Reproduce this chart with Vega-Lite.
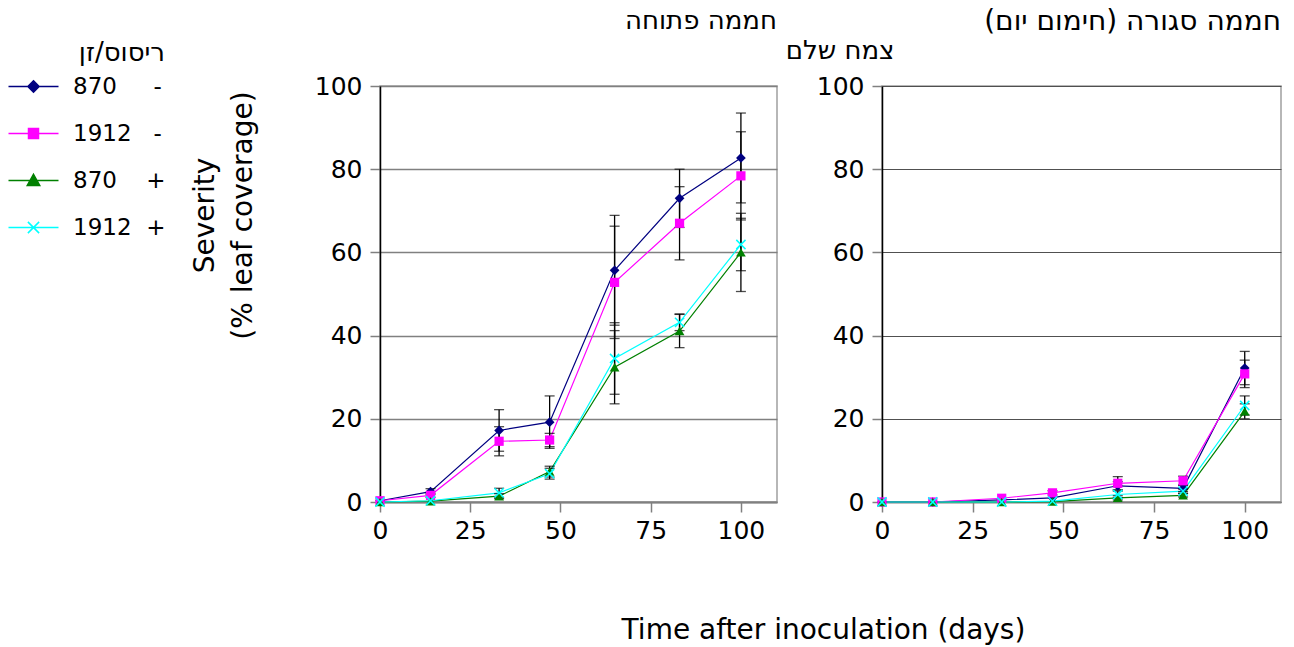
{
  "$schema": "https://vega.github.io/schema/vega-lite/v6.json",
  "background": "white",
  "padding": {"left": 20, "top": 7, "right": 0, "bottom": 0},
  "bounds": "flush",
  "spacing": 105,
  "config": {
    "font": "DejaVu Sans",
    "view": {"stroke": "#a0a0a0", "strokeWidth": 1.5},
    "axis": {"labelFont": "DejaVu Sans", "labelFontSize": 25, "labelColor": "black", "titleFont": "DejaVu Sans", "titleFontSize": 28, "titleFontWeight": "normal", "titleColor": "black", "labelFlush": false, "labelOverlap": false},
    "title": {"font": "DejaVu Sans", "fontSize": 26, "fontWeight": "normal", "color": "black"}
  },
  "datasets": {
    "d": [
      {"panel": "open", "series": "870 -", "day": 0, "severity": 0.3, "err": 0},
      {"panel": "open", "series": "870 -", "day": 14, "severity": 2.5, "err": 0.7},
      {"panel": "open", "series": "870 -", "day": 33, "severity": 17.2, "err": 5.0},
      {"panel": "open", "series": "870 -", "day": 47, "severity": 19.2, "err": 6.3},
      {"panel": "open", "series": "870 -", "day": 65, "severity": 55.7, "err": 13.2},
      {"panel": "open", "series": "870 -", "day": 83, "severity": 73.0, "err": 7.0},
      {"panel": "open", "series": "870 -", "day": 100, "severity": 82.7, "err": 10.8},
      {"panel": "open", "series": "1912 -", "day": 0, "severity": 0.3, "err": 0},
      {"panel": "open", "series": "1912 -", "day": 14, "severity": 1.6, "err": 0.5},
      {"panel": "open", "series": "1912 -", "day": 33, "severity": 14.6, "err": 3.5},
      {"panel": "open", "series": "1912 -", "day": 47, "severity": 14.9, "err": 1.6},
      {"panel": "open", "series": "1912 -", "day": 65, "severity": 52.8, "err": 13.5},
      {"panel": "open", "series": "1912 -", "day": 83, "severity": 67.0, "err": 8.8},
      {"panel": "open", "series": "1912 -", "day": 100, "severity": 78.4, "err": 10.6},
      {"panel": "open", "series": "870 +", "day": 0, "severity": 0.0, "err": 0},
      {"panel": "open", "series": "870 +", "day": 14, "severity": 0.2, "err": 0},
      {"panel": "open", "series": "870 +", "day": 33, "severity": 1.4, "err": 0.6},
      {"panel": "open", "series": "870 +", "day": 47, "severity": 7.3, "err": 1.3},
      {"panel": "open", "series": "870 +", "day": 65, "severity": 32.4, "err": 8.8},
      {"panel": "open", "series": "870 +", "day": 83, "severity": 41.1, "err": 4.0},
      {"panel": "open", "series": "870 +", "day": 100, "severity": 60.0, "err": 9.4},
      {"panel": "open", "series": "1912 +", "day": 0, "severity": 0.0, "err": 0},
      {"panel": "open", "series": "1912 +", "day": 14, "severity": 0.3, "err": 0},
      {"panel": "open", "series": "1912 +", "day": 33, "severity": 2.2, "err": 1.1},
      {"panel": "open", "series": "1912 +", "day": 47, "severity": 6.8, "err": 1.3},
      {"panel": "open", "series": "1912 +", "day": 65, "severity": 34.5, "err": 8.6},
      {"panel": "open", "series": "1912 +", "day": 83, "severity": 43.2, "err": 2.0},
      {"panel": "open", "series": "1912 +", "day": 100, "severity": 61.9, "err": 6.3},
      {"panel": "closed", "series": "870 -", "day": 0, "severity": 0.0, "err": 0},
      {"panel": "closed", "series": "870 -", "day": 14, "severity": 0.0, "err": 0},
      {"panel": "closed", "series": "870 -", "day": 33, "severity": 0.5, "err": 0},
      {"panel": "closed", "series": "870 -", "day": 47, "severity": 1.0, "err": 0},
      {"panel": "closed", "series": "870 -", "day": 65, "severity": 3.9, "err": 1.0},
      {"panel": "closed", "series": "870 -", "day": 83, "severity": 3.3, "err": 0.8},
      {"panel": "closed", "series": "870 -", "day": 100, "severity": 32.2, "err": 4.0},
      {"panel": "closed", "series": "1912 -", "day": 0, "severity": 0.0, "err": 0},
      {"panel": "closed", "series": "1912 -", "day": 14, "severity": 0.0, "err": 0},
      {"panel": "closed", "series": "1912 -", "day": 33, "severity": 0.9, "err": 0},
      {"panel": "closed", "series": "1912 -", "day": 47, "severity": 2.2, "err": 0.5},
      {"panel": "closed", "series": "1912 -", "day": 65, "severity": 4.5, "err": 1.6},
      {"panel": "closed", "series": "1912 -", "day": 83, "severity": 5.1, "err": 1.1},
      {"panel": "closed", "series": "1912 -", "day": 100, "severity": 30.8, "err": 3.3},
      {"panel": "closed", "series": "870 +", "day": 0, "severity": 0.0, "err": 0},
      {"panel": "closed", "series": "870 +", "day": 14, "severity": 0.0, "err": 0},
      {"panel": "closed", "series": "870 +", "day": 33, "severity": 0.0, "err": 0},
      {"panel": "closed", "series": "870 +", "day": 47, "severity": 0.1, "err": 0},
      {"panel": "closed", "series": "870 +", "day": 65, "severity": 1.0, "err": 0.5},
      {"panel": "closed", "series": "870 +", "day": 83, "severity": 1.6, "err": 0.4},
      {"panel": "closed", "series": "870 +", "day": 100, "severity": 21.8, "err": 1.8},
      {"panel": "closed", "series": "1912 +", "day": 0, "severity": 0.0, "err": 0},
      {"panel": "closed", "series": "1912 +", "day": 14, "severity": 0.0, "err": 0},
      {"panel": "closed", "series": "1912 +", "day": 33, "severity": 0.0, "err": 0},
      {"panel": "closed", "series": "1912 +", "day": 47, "severity": 0.2, "err": 0},
      {"panel": "closed", "series": "1912 +", "day": 65, "severity": 1.8, "err": 0.8},
      {"panel": "closed", "series": "1912 +", "day": 83, "severity": 2.6, "err": 0.5},
      {"panel": "closed", "series": "1912 +", "day": 100, "severity": 23.2, "err": 2.3}
    ]
  },
  "hconcat": [
    {
      "width": 397,
      "height": 416,
      "title": {"text": "חממה פתוחה", "anchor": "end", "frame": "group", "offset": 40},
      "data": {"name": "d"},
      "transform": [{"filter": "datum.panel == 'open'"}],
      "encoding": {
        "x": {"field": "day", "type": "quantitative", "scale": {"domain": [0, 110], "nice": false, "zero": false},
          "axis": {"values": [0, 25, 50, 75, 100], "grid": false, "domainColor": "#808080", "domainWidth": 2, "tickColor": "#808080", "tickSize": 10, "tickWidth": 1.5, "labelPadding": 6,
            "title": "Time after inoculation (days)", "titleX": 443, "titleY": 128, "titleAlign": "center", "titleBaseline": "middle", "titleAngle": 0}},
        "y": {"field": "severity", "type": "quantitative", "scale": {"domain": [0, 100], "nice": false},
          "axis": {"values": [0, 20, 40, 60, 80, 100], "grid": true, "gridColor": "#808080", "gridWidth": 1.5, "domainColor": "black", "domainWidth": 1.5, "tickColor": "#808080", "tickSize": 10, "tickWidth": 1.5, "labelPadding": 8,
            "title": ["Severity", "(% leaf coverage)"], "titleAngle": -90, "titleX": -175, "titleY": 129, "titleAlign": "center", "titleBaseline": "middle", "titleLineHeight": 38}}
      },
      "layer": [
        {"mark": {"type": "line", "strokeWidth": 1.2},
         "encoding": {"color": {"field": "series", "type": "nominal",
           "scale": {"domain": ["870 -", "1912 -", "870 +", "1912 +"], "range": ["#000080", "#ff00ff", "#008000", "#00ffff"]},
           "legend": {"orient": "none", "legendX": -360, "legendY": -46, "title": "ריסוס/זן", "titleFontSize": 26, "titleFontWeight": "normal", "titleFont": "DejaVu Sans", "titleAnchor": "end", "titlePadding": 7,
             "labelFont": "DejaVu Sans", "labelFontSize": 23, "labelOffset": 26, "rowPadding": 21, "symbolSize": 625, "symbolStrokeWidth": 1.5,
             "labelExpr": "datum.value == '870 -' ? '870\u00a0\u00a0\u00a0\u00a0\u00a0-' : datum.value == '1912 -' ? '1912\u00a0\u00a0\u00a0-' : datum.value == '870 +' ? '870\u00a0\u00a0\u00a0\u00a0+' : '1912\u00a0\u00a0+'",
             "encode": {"symbols": {"update": {
               "shape": {"signal": "datum.value == '870 -' ? 'M-2,0H2M0,-0.45L0.45,0L0,0.45L-0.45,0Z' : datum.value == '1912 -' ? 'M-2,0H2M-0.4,-0.4H0.4V0.4H-0.4Z' : datum.value == '870 +' ? 'M-2,0H2M0,-0.5L0.5,0.4H-0.5Z' : 'M-2,0H2M-0.45,-0.45L0.45,0.45M-0.45,0.45L0.45,-0.45'"},
               "fill": {"scale": "color", "field": "value"},
               "stroke": {"scale": "color", "field": "value"},
               "strokeWidth": {"value": 1.5},
               "size": {"value": 625},
               "opacity": {"value": 1}}}}}}}},
        {"transform": [{"filter": "datum.err > 0"}],
         "mark": {"type": "errorbar", "color": "black", "thickness": 1.3, "ticks": {"size": 10, "color": "black"}},
         "encoding": {"yError": {"field": "err"}}},
        {"transform": [{"filter": "datum.series == '870 -'"}],
         "mark": {"type": "point", "shape": "diamond", "filled": true, "color": "#000080", "size": 95, "opacity": 1}},
        {"transform": [{"filter": "datum.series == '1912 -'"}],
         "mark": {"type": "point", "shape": "square", "filled": true, "color": "#ff00ff", "size": 85, "opacity": 1}},
        {"transform": [{"filter": "datum.series == '870 +'"}],
         "mark": {"type": "point", "shape": "triangle-up", "filled": true, "color": "#008000", "size": 95, "opacity": 1}},
        {"transform": [{"filter": "datum.series == '1912 +'"}],
         "mark": {"type": "point", "shape": "M-1,-1L1,1M-1,1L1,-1", "filled": false, "color": "#00ffff", "strokeWidth": 1.5, "size": 85, "opacity": 1}}
      ]
    },
    {
      "width": 399,
      "height": 416,
      "title": {"text": "חממה סגורה (חימום יום)‏", "anchor": "end", "frame": "group", "offset": 1, "fontSize": 28},
      "data": {"name": "d"},
      "transform": [{"filter": "datum.panel == 'closed'"}],
      "encoding": {
        "x": {"field": "day", "type": "quantitative", "scale": {"domain": [0, 110], "nice": false, "zero": false},
          "axis": {"values": [0, 25, 50, 75, 100], "grid": false, "domainColor": "#808080", "domainWidth": 2, "tickColor": "#808080", "tickSize": 10, "tickWidth": 1.5, "labelPadding": 6, "title": null}},
        "y": {"field": "severity", "type": "quantitative", "scale": {"domain": [0, 100], "nice": false},
          "axis": {"values": [0, 20, 40, 60, 80, 100], "grid": true, "gridColor": "#505050", "gridWidth": 1.2, "domainColor": "black", "domainWidth": 1.5, "tickColor": "#808080", "tickSize": 10, "tickWidth": 1.5, "labelPadding": 8,
            "title": "צמח שלם", "titleFontSize": 26, "titleAngle": 0, "titleX": 12, "titleY": -28, "titleAlign": "right", "titleBaseline": "alphabetic"}}
      },
      "layer": [
        {"mark": {"type": "line", "strokeWidth": 1.2},
         "encoding": {"color": {"field": "series", "type": "nominal"}}},
        {"transform": [{"filter": "datum.err > 0"}],
         "mark": {"type": "errorbar", "color": "black", "thickness": 1.3, "ticks": {"size": 10, "color": "black"}},
         "encoding": {"yError": {"field": "err"}}},
        {"transform": [{"filter": "datum.series == '870 -'"}],
         "mark": {"type": "point", "shape": "diamond", "filled": true, "color": "#000080", "size": 95, "opacity": 1}},
        {"transform": [{"filter": "datum.series == '1912 -'"}],
         "mark": {"type": "point", "shape": "square", "filled": true, "color": "#ff00ff", "size": 85, "opacity": 1}},
        {"transform": [{"filter": "datum.series == '870 +'"}],
         "mark": {"type": "point", "shape": "triangle-up", "filled": true, "color": "#008000", "size": 95, "opacity": 1}},
        {"transform": [{"filter": "datum.series == '1912 +'"}],
         "mark": {"type": "point", "shape": "M-1,-1L1,1M-1,1L1,-1", "filled": false, "color": "#00ffff", "strokeWidth": 1.5, "size": 85, "opacity": 1}}
      ]
    }
  ]
}
